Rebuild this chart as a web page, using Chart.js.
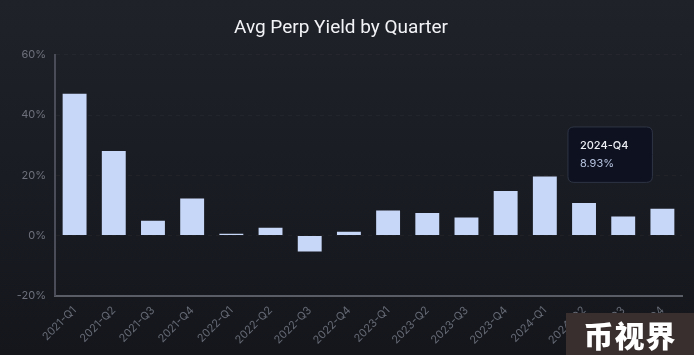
<!DOCTYPE html>
<html>
<head>
<meta charset="utf-8">
<script src="https://cdn.jsdelivr.net/npm/chart.js@4/dist/chart.umd.min.js"></script>
<style>
  html, body { margin: 0; padding: 0; }
  body {
    width: 694px; height: 355px; overflow: hidden; position: relative;
    background: linear-gradient(180deg, #20222a 0%, #1a1c23 50%, #14161c 100%);
  }
  #wrap { position: absolute; left: 0; top: 0; width: 694px; height: 355px; }
  #wm {
    position: absolute; left: 566px; top: 313px; width: 128px; height: 42px;
    background: #3a2f2f; color: #ffffff;
    font-family: "Noto Sans CJK SC", sans-serif; font-weight: 900; font-size: 30px;
    line-height: 42px; text-align: center; letter-spacing: 1px;
  }
</style>
</head>
<body>
<div id="wrap"><canvas id="c" width="694" height="355"></canvas></div>
<div id="wm">币视界</div>
<script>
const categories = ["2021-Q1","2021-Q2","2021-Q3","2021-Q4","2022-Q1","2022-Q2","2022-Q3","2022-Q4",
                    "2023-Q1","2023-Q2","2023-Q3","2023-Q4","2024-Q1","2024-Q2","2024-Q3","2024-Q4"];
const avgPerpYield = [47.1, 28.1, 4.9, 12.3, 0.6, 2.6, -5.3, 1.3, 8.3, 7.5, 6.0, 14.8, 19.6, 10.8, 6.3, 8.93];
const yTicks = [-20, 0, 20, 40, 60];
const chartTitle = "Avg Perp Yield by Quarter";
const highlightIndex = 15;

Chart.Tooltip.positioners.leftOfBar = function(items) {
  if (!items.length) return false;
  const el = items[0].element;
  return { x: el.x - 10, y: el.y - 54 };
};

const ctx = document.getElementById('c');
const chart = new Chart(ctx, {
  type: 'bar',
  data: {
    labels: categories,
    datasets: [{
      label: 'Avg Perp Yield',
      data: avgPerpYield,
      backgroundColor: '#c7d7f7',
      hoverBackgroundColor: '#c7d7f7',
      borderWidth: 0,
      categoryPercentage: 1.0,
      barPercentage: 0.61
    }]
  },
  options: {
    responsive: false,
    animation: false,
    layout: { padding: { left: 0, right: 12, top: 0, bottom: 0 } },
    plugins: {
      legend: { display: false },
      title: {
        display: true,
        text: chartTitle,
        color: '#f2f3f6',
        font: { family: 'Roboto', size: 19, weight: '400' },
        padding: { top: 17, bottom: 15 }
      },
      tooltip: {
        enabled: true,
        position: 'leftOfBar',
        xAlign: 'right',
        yAlign: 'center',
        caretSize: 0,
        caretPadding: 0,
        backgroundColor: '#0d1120',
        borderColor: '#2f3545',
        borderWidth: 1,
        cornerRadius: 6,
        padding: { left: 12, right: 24, top: 12, bottom: 12 },
        titleColor: '#eceef3',
        titleFont: { family: 'Inter', size: 11, weight: '500' },
        titleMarginBottom: 5,
        bodyColor: '#b7c3de',
        bodyFont: { family: 'Inter', size: 11, weight: '400' },
        displayColors: false,
        callbacks: {
          label: (c) => c.parsed.y.toFixed(2) + '%'
        }
      }
    },
    scales: {
      x: {
        grid: { display: false, drawTicks: false },
        border: { display: true, color: '#5a5d66', width: 2 },
        ticks: {
          color: '#666a74',
          font: { family: 'Inter', size: 11 },
          minRotation: 45,
          maxRotation: 45,
          padding: 8,
          autoSkip: false
        }
      },
      y: {
        min: -20,
        max: 60,
        afterBuildTicks: (s) => { s.ticks = yTicks.map(v => ({ value: v })); },
        afterFit: (s) => { s.width = 55; },
        grid: {
          color: 'rgba(255,255,255,0.03)',
          drawTicks: false
        },
        border: { display: true, color: '#4a4d57', width: 2, dash: [4, 4] },
        ticks: {
          color: '#6e717b',
          font: { family: 'Inter', size: 11 },
          padding: 9,
          callback: (v) => v + '%'
        }
      }
    }
  }
});

const meta = chart.getDatasetMeta(0);
const el = meta.data[highlightIndex];
chart.setActiveElements([{ datasetIndex: 0, index: highlightIndex }]);
chart.tooltip.setActiveElements([{ datasetIndex: 0, index: highlightIndex }], { x: el.x, y: el.y });
chart.update();
</script>
</body>
</html>
